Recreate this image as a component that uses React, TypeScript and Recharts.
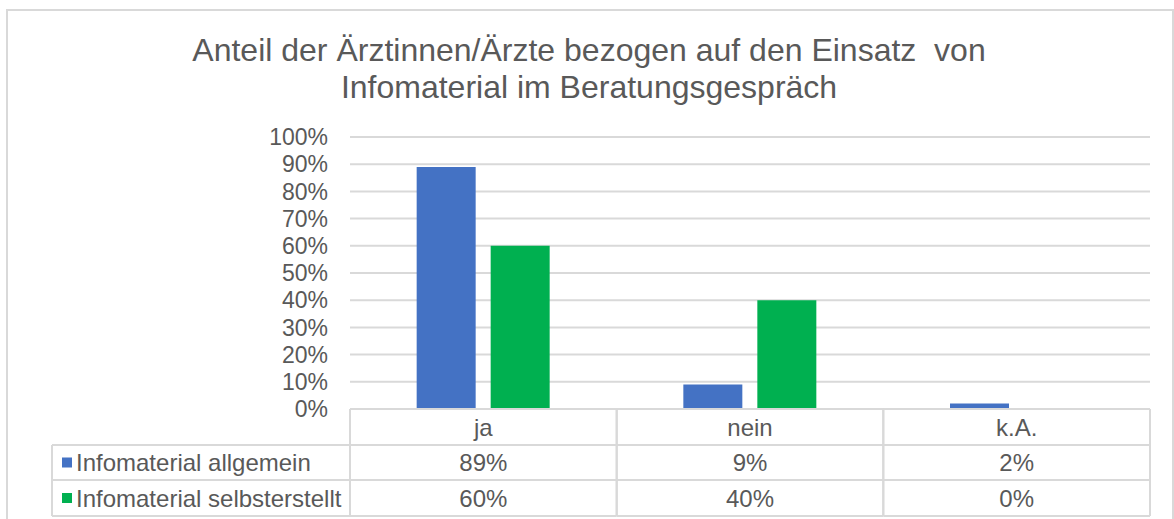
import { Bar, BarChart, CartesianGrid, XAxis, YAxis } from "recharts";

const categories = ["ja", "nein", "k.A."];
const allgemein = [89, 9, 2];
const selbsterstellt = [60, 40, 0];
const yTicks = [0, 10, 20, 30, 40, 50, 60, 70, 80, 90, 100];

const seriesNames = ["Infomaterial allgemein", "Infomaterial selbsterstellt"];
const seriesColors = ["#4472C4", "#00B050"];

const data = categories.map((cat, i) => ({
  cat,
  allgemein: allgemein[i],
  selbsterstellt: selbsterstellt[i],
}));

const GRID = "#d9d9d9";
const TEXT = "#595959";
const FONT = "'Liberation Sans', Arial, sans-serif";

// data table under the plot, one column per category tick
function TableColumn(props: any) {
  const { x, y, payload } = props;
  const i = categories.indexOf(payload.value);
  const half = payload.offset ?? 400 / 3;
  const left = x - half;
  const right = x + half;
  const rows = [y, y + 36, y + 71, y + 107];
  const values = [allgemein[i], selbsterstellt[i]];
  const legendLeft = left - 298;

  return (
    <g>
      {rows.map((ry) => (
        <line key={ry} x1={left} x2={right} y1={ry} y2={ry} stroke={GRID} strokeWidth={2} />
      ))}
      <line x1={left} x2={left} y1={rows[0]} y2={rows[3]} stroke={GRID} strokeWidth={2} />
      <line x1={right} x2={right} y1={rows[0]} y2={rows[3]} stroke={GRID} strokeWidth={2} />
      <text x={x} y={(rows[0] + rows[1]) / 2} textAnchor="middle" dominantBaseline="central" fill={TEXT} fontSize={24} fontFamily={FONT}>
        {payload.value}
      </text>
      {values.map((v, r) => (
        <text key={r} x={x} y={(rows[r + 1] + rows[r + 2]) / 2} textAnchor="middle" dominantBaseline="central" fill={TEXT} fontSize={24} fontFamily={FONT}>
          {v}%
        </text>
      ))}
      {i === 0 && (
        <g>
          {rows.slice(1).map((ry) => (
            <line key={ry} x1={legendLeft} x2={left} y1={ry} y2={ry} stroke={GRID} strokeWidth={2} />
          ))}
          <line x1={legendLeft} x2={legendLeft} y1={rows[1]} y2={rows[3]} stroke={GRID} strokeWidth={2} />
          {seriesNames.map((name, r) => {
            const cy = (rows[r + 1] + rows[r + 2]) / 2;
            return (
              <g key={name}>
                <rect x={legendLeft + 10} y={cy - 5} width={10} height={10} fill={seriesColors[r]} />
                <text x={legendLeft + 24} y={cy} dominantBaseline="central" fill={TEXT} fontSize={24} fontFamily={FONT}>
                  {name}
                </text>
              </g>
            );
          })}
        </g>
      )}
    </g>
  );
}

export default function App() {
  return (
    <div style={{ position: "absolute", left: 0, top: 0, width: 1174, height: 519, background: "#fff", overflow: "hidden", fontFamily: FONT }}>
      {/* outer chart frame */}
      <div style={{ position: "absolute", left: 6, top: 9, width: 1164, height: 530, border: `2px solid ${GRID}` }} />
      {/* title */}
      <div
        style={{
          position: "absolute",
          left: 7,
          width: 1164,
          top: 32,
          textAlign: "center",
          color: TEXT,
          fontSize: 32,
          lineHeight: "37px",
          whiteSpace: "pre",
        }}
      >
        {"Anteil der Ärztinnen/Ärzte bezogen auf den Einsatz  von\nInfomaterial im Beratungsgespräch"}
      </div>
      <div style={{ position: "absolute", left: 0, top: 0 }}>
        <BarChart
          width={1174}
          height={519}
          data={data}
          margin={{ top: 137, right: 24, bottom: 0, left: 0 }}
          barCategoryGap="25%"
          barGap={15}
        >
          <CartesianGrid vertical={false} stroke={GRID} strokeWidth={2} />
          <YAxis
            width={350}
            domain={[0, 100]}
            ticks={yTicks}
            interval={0}
            tickFormatter={(v) => `${v}%`}
            axisLine={false}
            tickLine={false}
            tickSize={0}
            tickMargin={22}
            tick={{ fill: TEXT, fontSize: 23, fontFamily: FONT }}
          />
          <XAxis
            dataKey="cat"
            height={110}
            interval={0}
            axisLine={false}
            tickLine={false}
            tickSize={0}
            tickMargin={0}
            tick={(p: any) => <TableColumn {...p} />}
          />
          <Bar dataKey="allgemein" name={seriesNames[0]} fill={seriesColors[0]} isAnimationActive={false} />
          <Bar dataKey="selbsterstellt" name={seriesNames[1]} fill={seriesColors[1]} isAnimationActive={false} />
        </BarChart>
      </div>
    </div>
  );
}
